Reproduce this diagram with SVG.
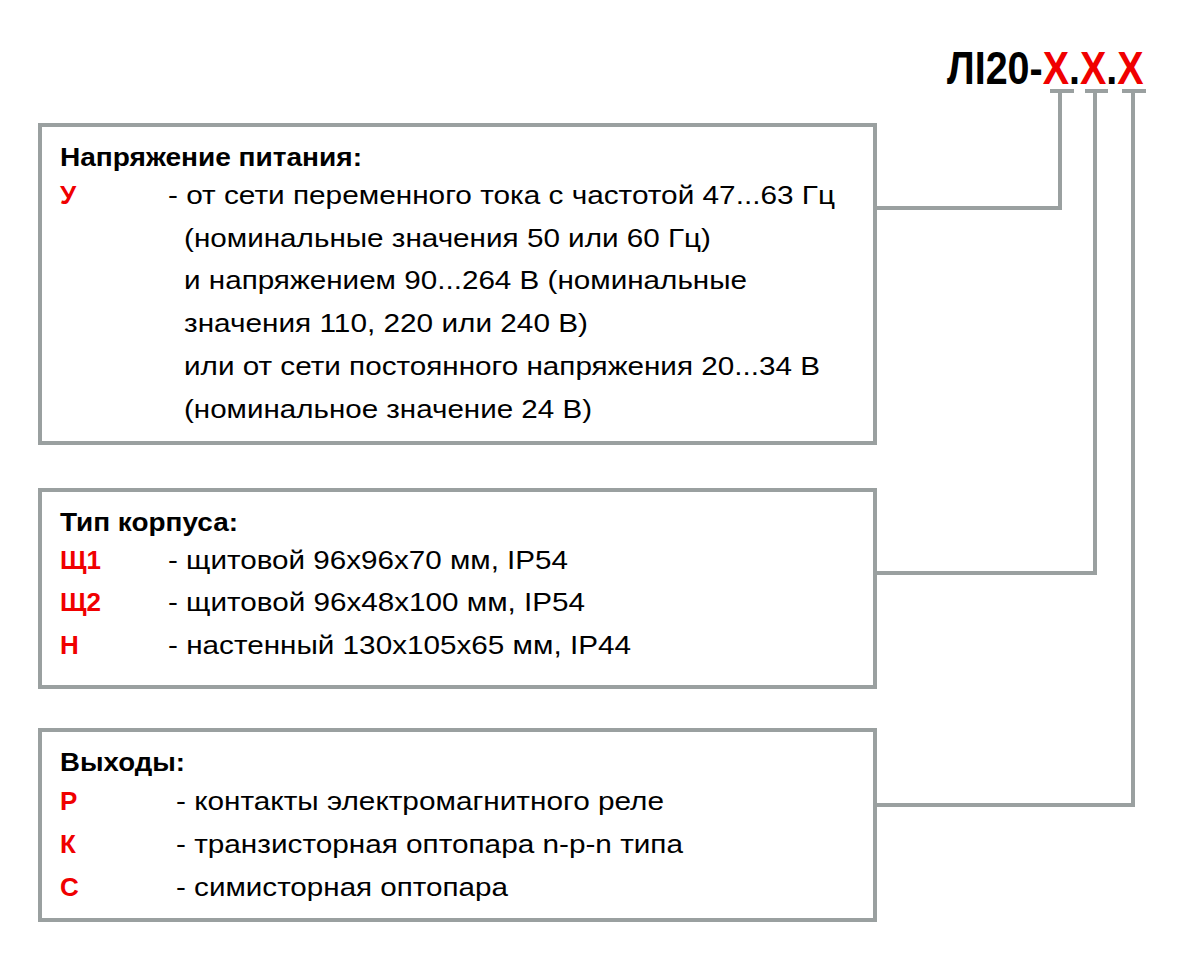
<svg xmlns="http://www.w3.org/2000/svg" width="1200" height="975" viewBox="0 0 1200 975">
<style>
.box{fill:#fff;stroke:#9aa0a0;stroke-width:4}
.ln{fill:none;stroke:#9aa0a0;stroke-width:4}
.t{font-family:"Liberation Sans",Arial,sans-serif;font-size:26px;fill:#000}
.h{font-weight:bold}
.r{fill:#f00000;font-weight:bold}
.title{font-family:"Liberation Sans",Arial,sans-serif;font-size:47px;font-weight:bold;fill:#000}
.rx{fill:#f00000}
</style>
<rect width="1200" height="975" fill="#fff"/>
<g id="title" transform="translate(947 84) scale(0.84 1)">
<text class="title" x="0" y="0">ЛI20-<tspan class="rx">X</tspan>.<tspan class="rx">X</tspan>.<tspan class="rx">X</tspan></text>
</g>
<g id="connectors">
<path class="ln" d="M1050 91H1074M1060 91V208H875"/>
<path class="ln" d="M1085 91H1108M1095 91V573H875"/>
<path class="ln" d="M1122 91H1146M1133 91V805H875"/>
</g>
<g id="box-power">
<rect class="box" x="40" y="125" width="835" height="318"/>
<text class="t h" x="60" y="166" textLength="302" lengthAdjust="spacingAndGlyphs">Напряжение питания:</text>
<text class="t r" x="60" y="204">У</text>
<text class="t" x="168" y="204" textLength="667" lengthAdjust="spacingAndGlyphs">- от сети переменного тока с частотой 47...63 Гц</text>
<text class="t" x="184" y="247" textLength="527" lengthAdjust="spacingAndGlyphs">(номинальные значения 50 или 60 Гц)</text>
<text class="t" x="184" y="289" textLength="563" lengthAdjust="spacingAndGlyphs">и напряжением 90...264 В (номинальные</text>
<text class="t" x="184" y="332" textLength="404" lengthAdjust="spacingAndGlyphs">значения 110, 220 или 240 В)</text>
<text class="t" x="184" y="375" textLength="636" lengthAdjust="spacingAndGlyphs">или от сети постоянного напряжения 20...34 В</text>
<text class="t" x="184" y="418" textLength="408" lengthAdjust="spacingAndGlyphs">(номинальное значение 24 В)</text>
</g>
<g id="box-case">
<rect class="box" x="40" y="490" width="835" height="197"/>
<text class="t h" x="60" y="531" textLength="178" lengthAdjust="spacingAndGlyphs">Тип корпуса:</text>
<text class="t r" x="60" y="569">Щ1</text>
<text class="t" x="168" y="569" textLength="400" lengthAdjust="spacingAndGlyphs">- щитовой 96х96х70 мм, IP54</text>
<text class="t r" x="60" y="611">Щ2</text>
<text class="t" x="168" y="611" textLength="417" lengthAdjust="spacingAndGlyphs">- щитовой 96х48х100 мм, IP54</text>
<text class="t r" x="60" y="654">Н</text>
<text class="t" x="168" y="654" textLength="463" lengthAdjust="spacingAndGlyphs">- настенный 130х105х65 мм, IP44</text>
</g>
<g id="box-out">
<rect class="box" x="40" y="730" width="835" height="190"/>
<text class="t h" x="60" y="771" textLength="125" lengthAdjust="spacingAndGlyphs">Выходы:</text>
<text class="t r" x="60" y="810">Р</text>
<text class="t" x="176" y="810" textLength="488" lengthAdjust="spacingAndGlyphs">- контакты электромагнитного реле</text>
<text class="t r" x="60" y="853">К</text>
<text class="t" x="176" y="853" textLength="507" lengthAdjust="spacingAndGlyphs">- транзисторная оптопара n-p-n типа</text>
<text class="t r" x="60" y="896">С</text>
<text class="t" x="176" y="896" textLength="332" lengthAdjust="spacingAndGlyphs">- симисторная оптопара</text>
</g>
</svg>
